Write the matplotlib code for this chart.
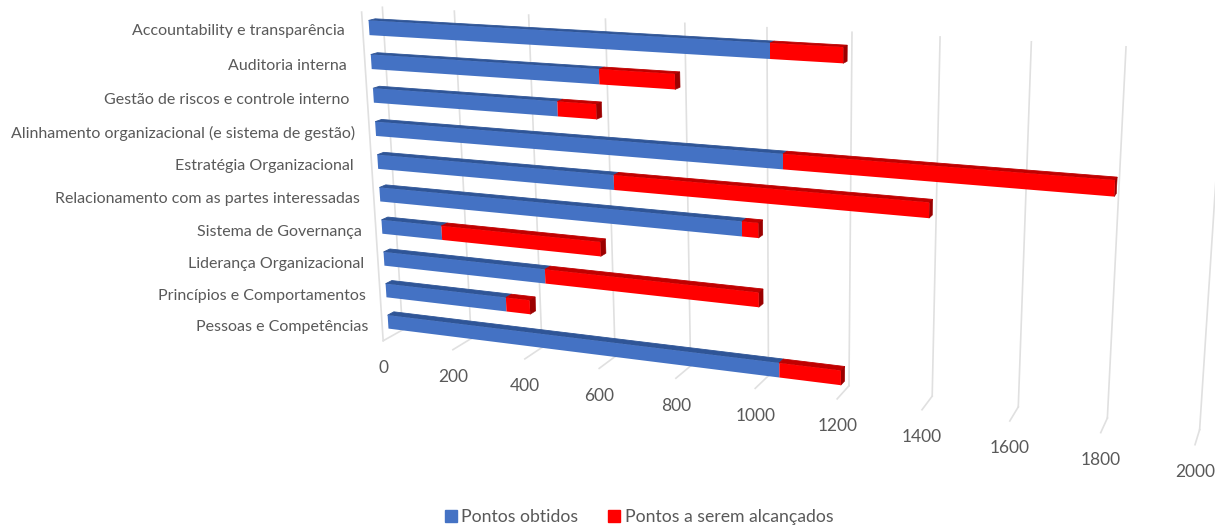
# coding:utf-8
# 3D look stacked bars, drawn through a small perspective transform

import numpy as np
import matplotlib
matplotlib.use('Agg')
import matplotlib.pyplot as plt
from matplotlib.patches import Patch
from matplotlib.transforms import Transform

W, H = 1215, 526

categories = ['Pessoas e Competências', 'Princípios e Comportamentos', 'Liderança Organizacional',
              'Sistema de Governança', 'Relacionamento com as partes interessadas', 'Estratégia Organizacional ',
              'Alinhamento organizacional (e sistema de gestão)', 'Gestão de riscos e controle interno ',
              'Auditoria interna ', 'Accountability e transparência ']
obtidos = [1050, 340, 450, 170, 960, 640, 1060, 500, 610, 1030]
alcancar = [150, 65, 550, 430, 40, 760, 740, 100, 190, 170]
ticks = [0, 200, 400, 600, 800, 1000, 1200, 1400, 1600, 1800, 2000]
series_names = ['Pontos obtidos', 'Pontos a serem alcançados']

# box corners (value, height, depth) and where they are in the picture
calib_world = [(0, 0, 0), (1000, 0, 0), (2000, 0, 0), (0, 0, 1), (1000, 0, 1), (2000, 0, 1),
               (0, 1, 1), (1000, 1, 1), (1800, 1, 1), (0, 1, 0)]
calib_px = [(383, 340), (755, 389), (1195, 445), (403, 330), (768, 377), (1200, 428),
            (382, 7), (767, 28), (1126, 47), (362, 12)]


def fit_camera(world, px):
    A = []
    for (v, h, d), (x, y) in zip(world, px):
        v = v / 1000.
        A.append([v, h, d, 1, 0, 0, 0, 0, -x*v, -x*h, -x*d, -x])
        A.append([0, 0, 0, 0, v, h, d, 1, -y*v, -y*h, -y*d, -y])
    P = np.linalg.svd(np.array(A, float))[2][-1].reshape(3, 4)
    P[:, 0] /= 1000.
    return P


CAM = fit_camera(calib_world, calib_px)


class Plane(Transform):
    # 2d data on one plane of the box -> display pixels
    input_dims = 2
    output_dims = 2
    is_separable = False

    def __init__(self, cols, fixed=0.0):
        # cols: which world axes the two inputs are, fixed: value of the third one
        super().__init__()
        self.cols = cols
        self.other = 3 - sum(cols)
        self.fixed = fixed

    def transform_non_affine(self, values):
        values = np.asarray(values, float)
        q = np.ones((len(values), 4))
        q[:, self.cols[0]] = values[:, 0]
        q[:, self.cols[1]] = values[:, 1]
        q[:, self.other] = self.fixed
        p = q @ CAM.T
        return np.c_[p[:, 0]/p[:, 2], H - p[:, 1]/p[:, 2]]


def wall(d):
    return Plane((0, 1), d)   # value, height


def top(h):
    return Plane((0, 2), h)   # value, depth


def side(v):
    return Plane((2, 1), v)   # depth, height


fig = plt.figure(figsize=(W/100., H/100.), dpi=100)
ax = fig.add_axes([0, 0, 1, 1])
ax.set_xlim(0, W)
ax.set_ylim(0, H)
ax.set_autoscale_on(False)
ax.axis('off')

plt.rcParams['font.family'] = ['Lato', 'DejaVu Sans']
TEXT = '#595959'
GRID = '#e0e0e0'

# grid
for t in ticks:
    ax.plot([t, t], [0, 1], color=GRID, lw=1.2, transform=wall(1.0), zorder=1)
    ax.plot([t, t], [0, 1], color=GRID, lw=1.2, transform=top(0.0), zorder=1)
    ax.annotate(str(t), (t, 0), xycoords=wall(0.0), xytext=(0, -19.8), textcoords='offset points',
                ha='center', va='center', fontsize=12.5, color=TEXT)
ax.plot([0, 0], [0, 1], color=GRID, lw=1.2, transform=wall(0.0), zorder=1)

# bars
n = len(categories)
bar_h = 0.043
d0, d1 = 0.30, 0.62
for i in range(n):
    h = (i + 0.5) / n
    left = 0
    for val, col, dark, darker in [(obtidos[i], '#4472c4', '#2f5597', '#2f5597'),
                                   (alcancar[i], '#ff0000', '#c00000', '#9c0000')]:
        # top face goes under the front one a little, no white seam then
        ax.barh((d0 + d1)/2, val, left=left, height=d1 - d0, color=dark, edgecolor=dark, lw=0.6, zorder=2,
                transform=top(h + bar_h/2))
        ax.barh(h, val, left=left, height=bar_h, color=col, lw=0, zorder=3, transform=wall(d0))
        left += val
    ax.barh(h, d1 - d0, left=d0, height=bar_h, color=darker, edgecolor=darker, lw=0.4, zorder=2,
            transform=side(left))
    ax.annotate(categories[i], (0, h), xycoords=wall(0.0), xytext=(-10, -1.5), textcoords='offset points',
                ha='right', va='center', fontsize=11.55, color=TEXT)

ax.legend([Patch(color='#4472c4'), Patch(color='#ff0000')], series_names, loc='center',
          bbox_to_anchor=(639/W, 1 - 517/H), bbox_transform=fig.transFigure, ncol=2, frameon=False,
          fontsize=12.7, labelcolor=TEXT, handlelength=0.68, handleheight=0.68, handletextpad=0.25,
          columnspacing=1.7)

fig.savefig('out.png', dpi=100)
